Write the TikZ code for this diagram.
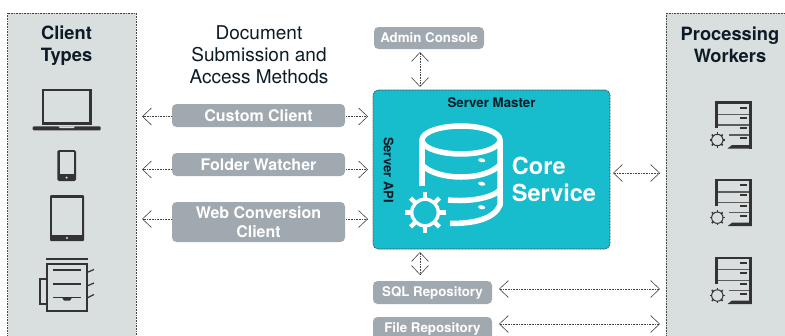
\documentclass[tikz,border=0pt]{standalone}
\usepackage{fontspec}
\setmainfont{TeX Gyre Heros}
\usetikzlibrary{arrows.meta}
\definecolor{panelc}{HTML}{D9DFDF}
\definecolor{greyc}{HTML}{A0A9B0}
\definecolor{tealc}{HTML}{17BCCD}
\definecolor{iconc}{HTML}{333333}
\definecolor{inkc}{HTML}{0D1B26}
\definecolor{linkc}{HTML}{444444}
\tikzset{
  panel/.style={draw=linkc,fill=panelc,line width=0.6pt,dash pattern=on 0.9pt off 0.7pt},
  greybox/.style={fill=greyc,rounded corners=4.5pt,text=white,font=\fontsize{16}{18.5}\selectfont\bfseries,align=center,inner sep=0pt,minimum width=#1},
  greybox/.default=173pt,
  heading/.style={text=inkc,font=\fontsize{18.3}{22.5}\selectfont\bfseries,align=center,inner sep=0pt},
  link/.style={draw=linkc,line width=0.6pt,dash pattern=on 1pt off 0.6pt,{Straight Barb[length=9pt,width=17pt,line width=0.6pt]}-{Straight Barb[length=9pt,width=17pt,line width=0.6pt]}},
  linkend/.style={draw=linkc,line width=0.6pt,dash pattern=on 1pt off 0.6pt,-{Straight Barb[length=9pt,width=17pt,line width=0.6pt]}},
  ico/.style={draw=iconc,line width=2.4pt,line join=miter},
  dbline/.style={draw=white,line width=5.5pt},
  serverpic/.pic={
    \fill[iconc] (0,0) rectangle (36.7,2.6);
    \fill[iconc] (0,0) rectangle (3,27.3);
    \fill[iconc] (34,0) rectangle (36.7,47.5);
    \fill[iconc] (12.5,47.5) -- (36.7,47.5) -- (36.7,44) -- (17,44) -- cycle;
    \draw[iconc!80,line width=1.1pt] (3,13.3) -- (34,13.3) (3,24) -- (34,24) (14,34) -- (34,34);
    \foreach \yy in {6.7,16.7,27.3,37.3} \fill[iconc] (25,\yy-1) rectangle (31.7,\yy+1);
    \foreach \aa in {0,45,...,315} \draw[iconc,line width=1.5pt] (2.3,39)++(\aa:5.5) -- ++(\aa:2.2);
    \draw[iconc,line width=1pt] (2.3,39) circle[radius=5.7];
  }
}
\begin{document}
\begin{tikzpicture}[x=1pt,y=-1pt]
\useasboundingbox (0,0) rectangle (785,335);
\clip (0,0) rectangle (785,335);
\fill[white] (0,0) rectangle (785,335);
% panels
\path[panel] (7.5,13) rectangle (136,345);
\path[panel] (666,13) rectangle (795,345);
\node[heading] (clienttypes) at (66.5,45.5) {Client\\Types};
\node[heading] (workers) at (730,44.8) {Processing\\Workers};
\node[text=inkc,font=\fontsize{19}{22}\selectfont,align=center,inner sep=0pt] (methods) at (259,55) {Document\\Submission and\\Access Methods};
% boxes
\node[greybox=110pt,minimum height=22pt,font=\fontsize{13.3}{16}\selectfont\bfseries] (admin) at (429,38) {\raisebox{-0.5pt}{Admin Console}};
\node[greybox,minimum height=23pt] (custom) at (258.5,115.5) {Custom Client};
\node[greybox,minimum height=23pt] (folder) at (258.5,164.5) {Folder Watcher};
\node[greybox,minimum height=40pt] (web) at (258.5,222) {Web Conversion\\Client};
\node[greybox=119pt,minimum height=23pt,font=\fontsize{13.3}{16}\selectfont\bfseries] (sql) at (432.5,292.5) {\raisebox{-1pt}{SQL Repository}};
\node[greybox=119pt,minimum height=23pt,font=\fontsize{13.3}{16}\selectfont\bfseries] (file) at (432.5,328.5) {\raisebox{-1pt}{File Repository}};
\node[draw=linkc,fill=tealc,line width=0.6pt,dash pattern=on 0.9pt off 0.6pt,rounded corners=5pt,minimum width=237pt,minimum height=159pt,inner sep=0pt] (core) at (491.5,169.5) {};
% anchors of connectors
\coordinate (cl1) at (142,116.5);
\coordinate (cl2) at (142,169.5);
\coordinate (cl3) at (142,219);
\coordinate (fw0) at (172,169.5);
\coordinate (wb0) at (172,219);
\coordinate (cu1) at (346,116.5);
\coordinate (fw1) at (346,169.5);
\coordinate (wb1) at (346,219);
\coordinate (cr1) at (368,116.5);
\coordinate (cr2) at (368,169.5);
\coordinate (cr3) at (368,219);
\coordinate (wk0) at (613,173);
\coordinate (wk1) at (660,173);
\coordinate (sq0) at (499,289);
\coordinate (sq1) at (660,289);
\coordinate (fi0) at (499,324);
\coordinate (fi1) at (660,324);
\coordinate (ad0) at (420,52);
\coordinate (ad1) at (420,87);
\coordinate (dn0) at (420,252);
\coordinate (dn1) at (420,275);
% connectors
\draw[linkend] (custom.west |- cl1) -- (cl1);
\draw[linkend] (fw0) -- (cl2);
\draw[linkend] (wb0) -- (cl3);
\draw[linkend] (cu1) -- (cr1);
\draw[linkend] (fw1) -- (cr2);
\draw[linkend] (wb1) -- (cr3);
\draw[link] (ad0) -- (ad1);
\draw[link] (dn0) -- (dn1);
\draw[link] (wk0) -- (wk1);
\draw[link] (sq0) -- (sq1);
\draw[link] (fi0) -- (fi1);
% core contents
\node[text=inkc,font=\fontsize{13.3}{15}\selectfont\bfseries,inner sep=0pt] (master) at (491.5,102.5) {Server Master};
\node[text=inkc,font=\fontsize{13}{15}\selectfont\bfseries,inner sep=0pt,rotate=-90] (api) at (388.5,170) {Server API};
\node[text=white,font=\fontsize{23.5}{27}\selectfont\bfseries,align=left,inner sep=0pt] (coretext) at (554,179.5) {Core\\Service};
% database icon
\draw[dbline] (461,140) ellipse[x radius=39,y radius=14];
\draw[dbline] (422,140) -- (422,185.5);
\draw[dbline] (500,140) -- (500,205) .. controls (495,218) and (475,224) .. (450,223.3);
\draw[dbline] (422,165) .. controls (430,173) and (445,177) .. (461,177) .. controls (477,177) and (492,173) .. (500,165);
\draw[dbline] (448,200) .. controls (470,202) and (492,198) .. (500,190);
\foreach \yy in {160.3,183.7,207.3} \fill[white,rotate around={-10:(481.7,\yy)}] (481.7,\yy) ellipse[x radius=3.6,y radius=2];
\draw[white,line width=3.4pt] (425,212.5) circle[radius=13.3];
\foreach \aa in {0,45,...,315} \draw[white,line width=4.5pt] (425,212.5)++(\aa:13.5) -- ++(\aa:7);
% laptop
\draw[ico] (42.7,89.7) rectangle (90.5,123.5);
\fill[iconc,rounded corners=1pt] (32.7,126.3) rectangle (100.7,130.3);
\fill[panelc] (58.5,126.3) -- (75,126.3) -- (73.5,128.2) -- (60,128.2) -- cycle;
% phone
\fill[iconc,rounded corners=1.5pt] (57.3,150) rectangle (76,181);
\fill[panelc] (59.5,152.3) rectangle (73.8,174);
\fill[panelc] (66.6,177.6) circle[radius=1.2];
% tablet
\fill[iconc,rounded corners=1pt] (50,195) rectangle (84,241);
\fill[panelc] (52.2,197.5) rectangle (81.8,234.5);
\fill[panelc] (67,238) circle[radius=1.2];
% printer
\draw[iconc,line width=2.2pt] (46,258.7) -- (87.5,258.7);
\draw[ico] (47,264) rectangle (87,311);
\draw[iconc,line width=2.2pt] (47,279) -- (40.3,279) -- (40.3,304) -- (47,304);
\draw[iconc,line width=1.6pt] (53,269.7) -- (81,269.7) (53,283.7) -- (81,283.7) (53,297.5) -- (81,297.5);
\fill[iconc] (62,297.5) -- (72,297.5) -- (70,300.5) -- (64,300.5) -- cycle;
\draw[iconc,line width=1.2pt] (87,272.5) -- (94,269.5) (87,286) -- (94,283) (87,298) -- (94,294.5);
% workers
\pic at (715,101) {serverpic};
\pic at (715,178.7) {serverpic};
\pic at (715,256.5) {serverpic};
\end{tikzpicture}
\end{document}
